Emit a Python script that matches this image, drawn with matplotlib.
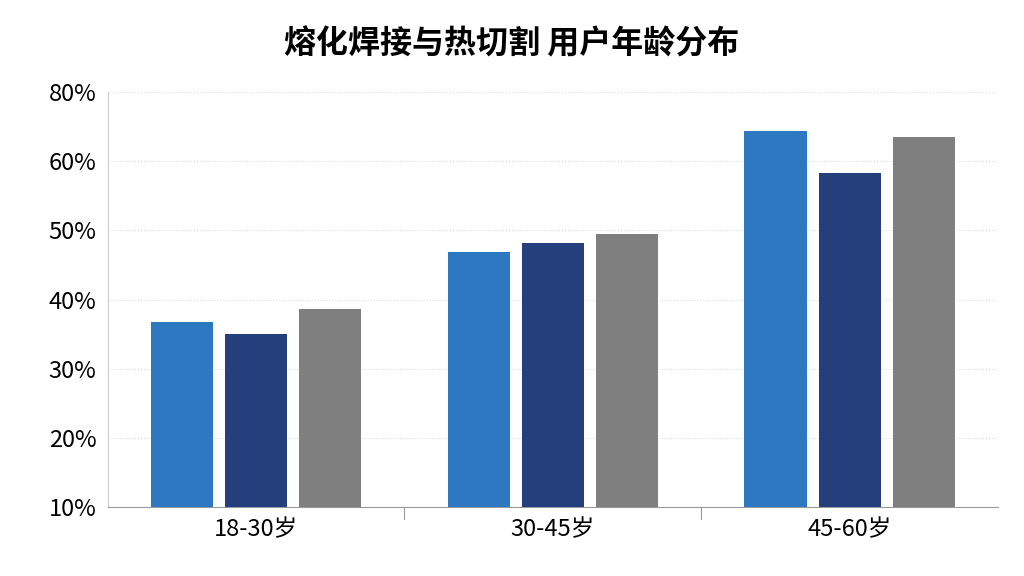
import matplotlib
matplotlib.use("Agg")
import matplotlib.pyplot as plt
import numpy as np

plt.rcParams['font.family'] = ['Noto Sans CJK SC', 'DejaVu Sans']

categories = ['18-30岁', '30-45岁', '45-60岁']
series_a = [36.7, 46.9, 64.4]
series_b = [35.0, 48.2, 58.3]
series_c = [38.6, 49.5, 63.5]
tick_values = [10, 20, 30, 40, 50, 60, 70]
tick_labels = ['10%', '20%', '30%', '40%', '50%', '60%', '80%']
colors = ['#2e78c2', '#243f7c', '#7f7f7f']

fig = plt.figure(figsize=(10.24, 5.76), dpi=100)
ax = fig.add_axes([0.105, 0.12, 0.87, 0.72])
x = np.arange(len(categories))
w = 0.21
for i, (vals, c) in enumerate(zip([series_a, series_b, series_c], colors)):
    ax.bar(x + (i - 1) * 0.25, np.array(vals) - 10, w, bottom=10, color=c, zorder=3)
ax.set_ylim(10, 70)
ax.set_xlim(-0.5, 2.5)
ax.set_yticks(tick_values)
ax.set_yticklabels(tick_labels, fontsize=17)
ax.set_xticks(x)
ax.set_xticklabels(categories, fontsize=17)
ax.grid(axis='y', color='#dddddd', linestyle=':', zorder=0)
for s in ['top', 'right']:
    ax.spines[s].set_visible(False)
ax.spines['left'].set_color('#cccccc')
ax.spines['bottom'].set_color('#999999')
ax.tick_params(length=0, pad=8)
for b in [0.5, 1.5]:
    ax.axvline(b, ymin=-0.03, ymax=0, color='#999999', clip_on=False, lw=0.8)
fig.suptitle('熔化焊接与热切割 用户年龄分布', fontsize=23, fontweight='bold', y=0.95)
fig.savefig('out.png', dpi=100)
